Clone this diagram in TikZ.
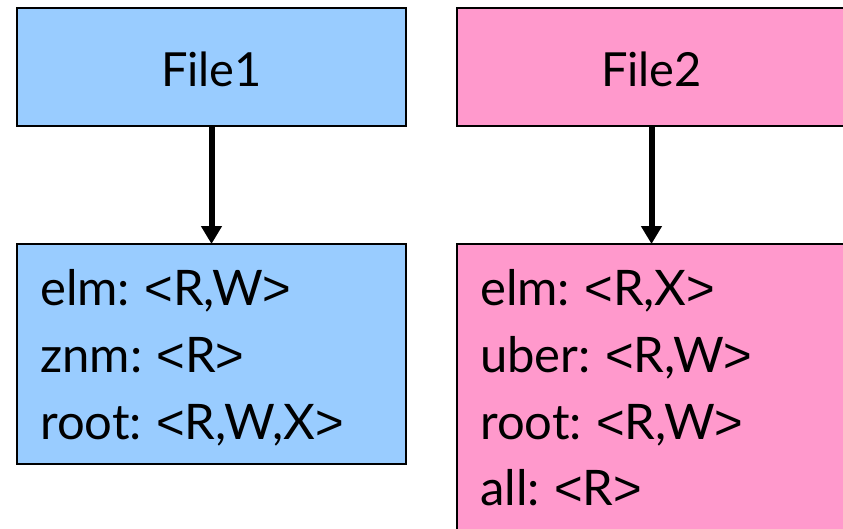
\documentclass[tikz,border=0pt]{standalone}
\usepackage{fontspec}
\setmainfont{Lato}
\newfontfamily\bracketfont{Liberation Sans}
\usetikzlibrary{arrows.meta}
\definecolor{boxblue}{HTML}{99CCFF}
\definecolor{boxpink}{HTML}{FF99CC}
% taller angle brackets for the permission tuples
\newcommand\opn{{\bracketfont <}}
\newcommand\cls{{\bracketfont >}}
\begin{document}
\begin{tikzpicture}[x=1pt,y=-1pt,
  panel/.style={draw=black,line width=2pt,rectangle,inner sep=0pt,outer sep=0pt},
  title/.style={font=\fontsize{47}{56}\selectfont,inner sep=0pt,anchor=base},
  entry/.style={font=\fontsize{49}{58}\selectfont,inner sep=0pt,anchor=base west},
  link/.style={line width=6pt,-{Triangle[width=20pt,length=18pt]}}]
\useasboundingbox (0,0) rectangle (843,528);
\clip (0,0) rectangle (843,528);
% upper boxes: file names
\node[panel,fill=boxblue,minimum width=389pt,minimum height=118pt] (file1) at (211.5,67) {};
\node[panel,fill=boxpink,minimum width=389pt,minimum height=118pt] (file2) at (651.5,67) {};
\node[title] (t1) at (211.5,86) {File1};
\node[title] (t2) at (651.5,86) {File2};
% lower boxes: permission lists
\node[panel,fill=boxblue,minimum width=389pt,minimum height=220pt] (list1) at (211.5,354) {};
\node[panel,fill=boxpink,minimum width=389pt,minimum height=320pt] (list2) at (651.5,404) {};
\node[entry] (a1) at (40,305) {elm:\hspace{-0.05em} \opn R,W\cls};
\node[entry] (a2) at (40,372) {znm:\hspace{-0.05em} \opn R\cls};
\node[entry] (a3) at (40,439) {root:\hspace{-0.05em} \opn R,W,X\cls};
\node[entry] (b1) at (480,305) {elm:\hspace{-0.05em} \opn R,X\cls};
\node[entry] (b2) at (480,372) {uber:\hspace{-0.05em} \opn R,W\cls};
\node[entry] (b3) at (480,439) {root:\hspace{-0.05em} \opn R,W\cls};
\node[entry] (b4) at (480,505) {all:\hspace{-0.05em} \opn R\cls};
% arrows
\draw[link] (file1.south) -- (list1.north);
\draw[link] (file2.south) -- (list2.north);
\end{tikzpicture}
\end{document}
